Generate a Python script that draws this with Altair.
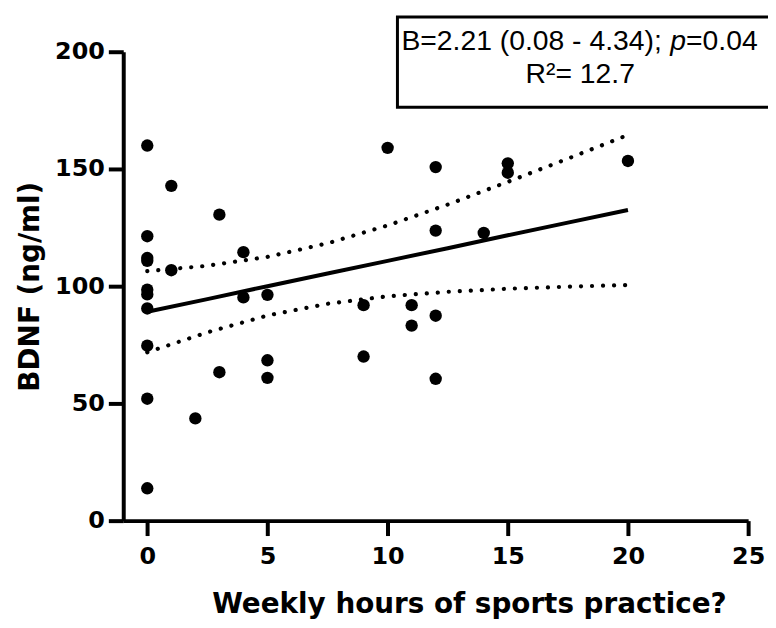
import altair as alt
import pandas as pd

# ---- data ----
hours = [0, 0, 0, 0, 0, 0, 0, 0, 0, 0,
         1, 1, 2, 3, 3, 4, 4, 5, 5, 5,
         9, 9, 10, 11, 11, 12, 12, 12, 12, 14,
         15, 15, 20]
bdnf = [160.0, 121.3, 112.0, 110.8, 98.5, 96.5, 90.5, 74.6, 52.0, 13.8,
        142.8, 106.8, 43.6, 130.5, 63.3, 114.5, 95.2, 96.3, 68.4, 60.9,
        91.9, 70.0, 159.0, 91.9, 83.2, 150.8, 123.7, 87.4, 60.5, 122.7,
        152.4, 148.4, 153.4]

band_x = [0, 2.5, 5, 7.5, 10, 12.5, 15, 17.5, 20]
fit_y = [89.1, 94.5, 100.0, 105.4, 110.8, 116.2, 121.7, 127.1, 132.5]
upper_y = [106.4, 108.7, 112.5, 118.3, 125.9, 134.8, 144.5, 154.4, 164.5]
lower_y = [71.8, 80.3, 87.5, 92.5, 95.7, 97.6, 98.9, 99.8, 100.5]

x_ticks = [0, 5, 10, 15, 20, 25]
y_ticks = [0, 50, 100, 150, 200]

line1_a = "B=2.21 (0.08 - 4.34);"
line1_p = "p"
line1_b = "=0.04"
line2 = "R\u00b2= 12.7"

# ---- tables ----
pts = pd.DataFrame({"hours": hours, "bdnf": bdnf})
fit = pd.DataFrame({"hours": band_x, "bdnf": fit_y})
band = pd.DataFrame({
    "hours": band_x + band_x,
    "bdnf": upper_y + lower_y,
    "band": ["upper"] * len(band_x) + ["lower"] * len(band_x),
})
one = pd.DataFrame({"a": [0]})

AXF = "DejaVu Sans"

X = alt.X("hours:Q",
          scale=alt.Scale(domain=[-1, 25], nice=False, zero=False),
          axis=alt.Axis(values=x_ticks, title="Weekly hours of sports practice?",
                        labelFont=AXF, labelFontWeight="bold", labelFontSize=24,
                        titleFont=AXF, titleFontWeight="bold", titleFontSize=28,
                        tickSize=15, tickWidth=4, domainWidth=4,
                        labelPadding=9, titlePadding=22, labelFlush=False,
                        titleX=348, titleAlign="center"))
Y = alt.Y("bdnf:Q",
          scale=alt.Scale(domain=[0, 200], nice=False),
          axis=alt.Axis(values=y_ticks, title="BDNF (ng/ml)",
                        labelFont=AXF, labelFontWeight="bold", labelFontSize=24,
                        titleFont=AXF, titleFontWeight="bold", titleFontSize=28,
                        tickSize=15, tickWidth=4, domainWidth=4,
                        labelPadding=4, titlePadding=10, labelFlush=False))

points = alt.Chart(pts).mark_circle(size=155, color="black", opacity=1).encode(x=X, y=Y)
fit_line = alt.Chart(fit).mark_line(color="black", strokeWidth=4).encode(x=X, y=Y)
ci = alt.Chart(band).mark_line(color="black", strokeWidth=4.2, strokeDash=[0.1, 11],
                               strokeCap="round").encode(x=X, y=Y, detail="band:N")

box = alt.Chart(one).mark_rect(fill="white", stroke="black", strokeWidth=3).encode(
    x=alt.value(276), x2=alt.value(690), y=alt.value(-35), y2=alt.value(56))

TF = "Liberation Sans"
FS = 28.5
t1 = alt.Chart(one).mark_text(text=line1_a, font=TF, fontSize=FS, align="left",
                              baseline="alphabetic", color="black").encode(
    x=alt.value(280), y=alt.value(-2))
t2 = alt.Chart(one).mark_text(text=line1_p, font=TF, fontSize=FS, fontStyle="italic",
                              align="left", baseline="alphabetic", color="black").encode(
    x=alt.value(550.5), y=alt.value(-2))
t3 = alt.Chart(one).mark_text(text=line1_b, font=TF, fontSize=FS, align="left",
                              baseline="alphabetic", color="black").encode(
    x=alt.value(566.5), y=alt.value(-2))
t4 = alt.Chart(one).mark_text(text=line2, font=TF, fontSize=FS, align="center",
                              baseline="alphabetic", color="black").encode(
    x=alt.value(460), y=alt.value(31))

chart = alt.layer(ci, fit_line, points, box, t1, t2, t3, t4).properties(
    width=629, height=472,
    autosize=alt.AutoSizeParams(type="none"),
    padding={"left": 116, "top": 42, "right": 20, "bottom": 98},
).configure_view(stroke=None).configure_axis(
    grid=False, domainColor="black", tickColor="black",
    labelColor="black", titleColor="black")

chart.save("out.html", embed_options={"renderer": "svg", "actions": False})
